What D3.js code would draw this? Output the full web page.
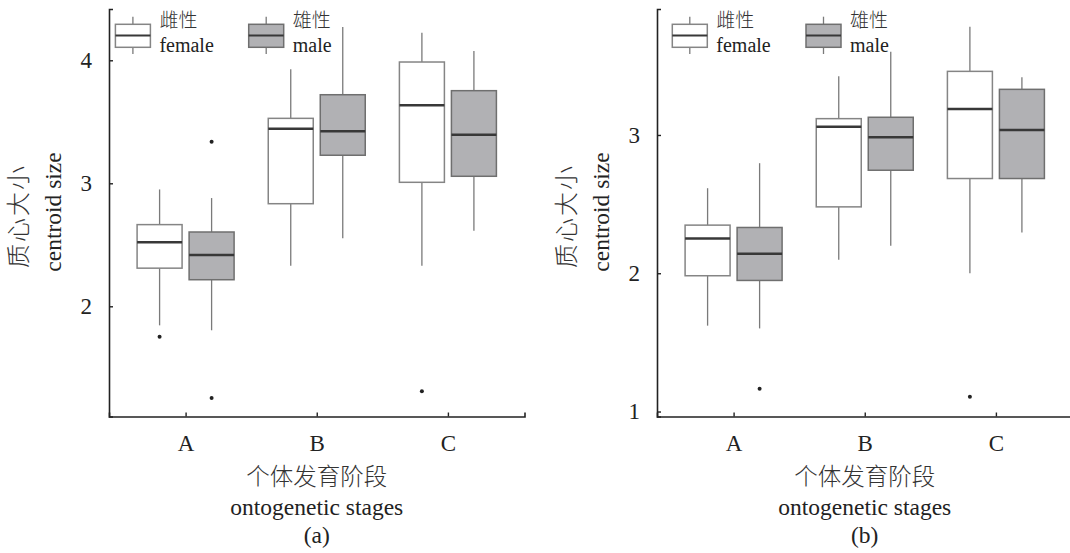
<!DOCTYPE html>
<html>
<head>
<meta charset="utf-8">
<script src="https://cdn.jsdelivr.net/npm/d3@7"></script>
<style>
  body { margin: 0; background: #fff; }
  svg { display: block; }
</style>
</head>
<body>
<script>
// categories
var stages = ['A', 'B', 'C'];
var sexes = ['female', 'male'];
var sexZh = ['雌性', '雄性'];

// box stats per stage: [lower whisker, q1, median, q3, upper whisker]
var boxA_female = [[1.845, 2.31, 2.52, 2.664, 2.95], [2.33, 2.834, 3.444, 3.528, 3.927], [2.33, 3.008, 3.634, 3.986, 4.224]];
var boxA_male = [[1.805, 2.216, 2.417, 2.604, 2.88], [2.553, 3.228, 3.423, 3.72, 4.271], [2.615, 3.057, 3.395, 3.753, 4.076]];
var outA_female = [[1.753], [], [1.309]];
var outA_male = [[3.338, 1.255], [], []];

var boxB_female = [[1.621, 1.982, 2.251, 2.348, 2.615], [2.097, 2.48, 3.06, 3.118, 3.424], [2.0, 2.685, 3.188, 3.46, 3.782]];
var boxB_male = [[1.601, 1.948, 2.141, 2.331, 2.796], [2.199, 2.745, 2.983, 3.128, 3.601], [2.295, 2.685, 3.036, 3.33, 3.417]];
var outB_female = [[], [], [1.106]];
var outB_male = [[1.164], [], []];

var ticksA = [2, 3, 4];
var ticksB = [1, 2, 3];

var serif = '"Liberation Serif", "Times New Roman", Tinos, "DejaVu Serif", serif';
var cjk = '"Noto Sans CJK SC", "Noto Sans CJK JP", sans-serif';

var w = 1070, h = 553;
var svg = d3.select('body').append('svg')
    .attr('width', w)
    .attr('height', h);
svg.append('rect').attr('width', w).attr('height', h).attr('fill', '#fff');

var fills = { female: '#ffffff', male: '#b1b1b4' };
var strokes = { female: '#858585', male: '#6f6f6f' };

var txt = function(sel, family, size, fill) {
    return sel.style('font-family', family).style('font-size', size + 'px').attr('fill', fill || '#222');
};

var drawPanel = function(ox, yDomain, yTicks, boxes, outliers, tag, legendX) {
    var g = svg.append('g').attr('transform', 'translate(' + ox + ',0)');
    var x = d3.scalePoint().domain(stages).range([109, 524.5]).padding(0.584);
    var sub = d3.scaleBand().domain(sexes).range([-48.5, 48.5]).paddingInner(0.135);
    var y = d3.scaleLinear().domain(yDomain).range([416.5, 9]);

    // boxes
    sexes.forEach(function(sex, si) {
        var rows = boxes[si];
        var bw = sub.bandwidth();
        var item = g.append('g').selectAll('g.box')
            .data(rows.map(function(d, i) { return { stage: stages[i], s: d, out: outliers[si][i] }; }))
            .enter().append('g')
            .attr('class', 'box')
            .attr('transform', function(d) { return 'translate(' + (x(d.stage) + sub(sex)) + ',0)'; });
        item.append('line')
            .attr('x1', bw / 2).attr('x2', bw / 2)
            .attr('y1', function(d) { return y(d.s[0]); })
            .attr('y2', function(d) { return y(d.s[1]); })
            .attr('stroke', '#7a7a7a').attr('stroke-width', 1.3);
        item.append('line')
            .attr('x1', bw / 2).attr('x2', bw / 2)
            .attr('y1', function(d) { return y(d.s[3]); })
            .attr('y2', function(d) { return y(d.s[4]); })
            .attr('stroke', '#7a7a7a').attr('stroke-width', 1.3);
        item.append('rect')
            .attr('x', 0)
            .attr('width', bw)
            .attr('y', function(d) { return y(d.s[3]); })
            .attr('height', function(d) { return y(d.s[1]) - y(d.s[3]); })
            .attr('fill', fills[sex])
            .attr('stroke', strokes[sex])
            .attr('stroke-width', 1.5);
        item.append('line')
            .attr('x1', 0).attr('x2', bw)
            .attr('y1', function(d) { return y(d.s[2]); })
            .attr('y2', function(d) { return y(d.s[2]); })
            .attr('stroke', '#383838').attr('stroke-width', 2.5);
        item.selectAll('circle')
            .data(function(d) { return d.out; })
            .enter().append('circle')
            .attr('cx', bw / 2)
            .attr('cy', function(v) { return y(v); })
            .attr('r', 2)
            .attr('fill', '#222');
    });

    // axes
    var xAxis = g.append('g')
        .attr('transform', 'translate(0,416.5)')
        .call(d3.axisBottom(x).tickSizeInner(-4).tickSizeOuter(-4).tickPadding(18));
    var yAxis = g.append('g')
        .attr('transform', 'translate(109,0)')
        .call(d3.axisLeft(y).tickValues(yTicks).tickFormat(d3.format('d')).tickSizeInner(-4).tickSizeOuter(-4).tickPadding(17));
    [xAxis, yAxis].forEach(function(a) {
        a.attr('font-family', null).attr('font-size', null);
        a.select('.domain').attr('stroke', '#222').attr('stroke-width', 1.6);
        a.selectAll('.tick line').attr('stroke', '#222').attr('stroke-width', 1.4);
        txt(a.selectAll('.tick text'), serif, 23);
    });

    // axis titles
    var cx = x('B');
    txt(g.append('text').attr('x', cx).attr('y', 485).attr('text-anchor', 'middle'), cjk, 23.5, '#333')
        .style('font-weight', 300).text('个体发育阶段');
    txt(g.append('text').attr('x', cx).attr('y', 515).attr('text-anchor', 'middle'), serif, 23.5)
        .text('ontogenetic stages');
    txt(g.append('text').attr('x', cx).attr('y', 543).attr('text-anchor', 'middle'), serif, 23.5)
        .text(tag);

    txt(g.append('text').attr('transform', 'translate(27,216) rotate(-90)').attr('text-anchor', 'middle'), cjk, 24, '#333')
        .style('font-weight', 300).attr('letter-spacing', 2).text('质心大小');
    txt(g.append('text').attr('transform', 'translate(61,212) rotate(-90)').attr('text-anchor', 'middle'), serif, 23.5)
        .text('centroid size');

    // legend
    sexes.forEach(function(sex, si) {
        var lg = g.append('g').attr('transform', 'translate(' + legendX[si] + ',0)');
        lg.append('line').attr('x1', 17.5).attr('x2', 17.5).attr('y1', 16.7).attr('y2', 54)
            .attr('stroke', '#7a7a7a').attr('stroke-width', 1.3);
        lg.append('rect').attr('x', 0).attr('y', 24.3).attr('width', 35).attr('height', 23)
            .attr('fill', fills[sex]).attr('stroke', strokes[sex]).attr('stroke-width', 1.5);
        lg.append('line').attr('x1', 0).attr('x2', 35).attr('y1', 35.5).attr('y2', 35.5)
            .attr('stroke', '#383838').attr('stroke-width', 2.2);
        txt(lg.append('text').attr('x', 44).attr('y', 27), cjk, 19, '#333')
            .style('font-weight', 300).text(sexZh[si]);
        txt(lg.append('text').attr('x', 44).attr('y', 51.5), serif, 20)
            .text(sex);
    });
};

drawPanel(0, [1.104, 4.417], ticksA, [boxA_female, boxA_male], [outA_female, outA_male], '(a)', [115.4, 248.7]);
drawPanel(548, [0.964, 3.911], ticksB, [boxB_female, boxB_male], [outB_female, outB_male], '(b)', [124.3, 258]);
</script>
</body>
</html>
